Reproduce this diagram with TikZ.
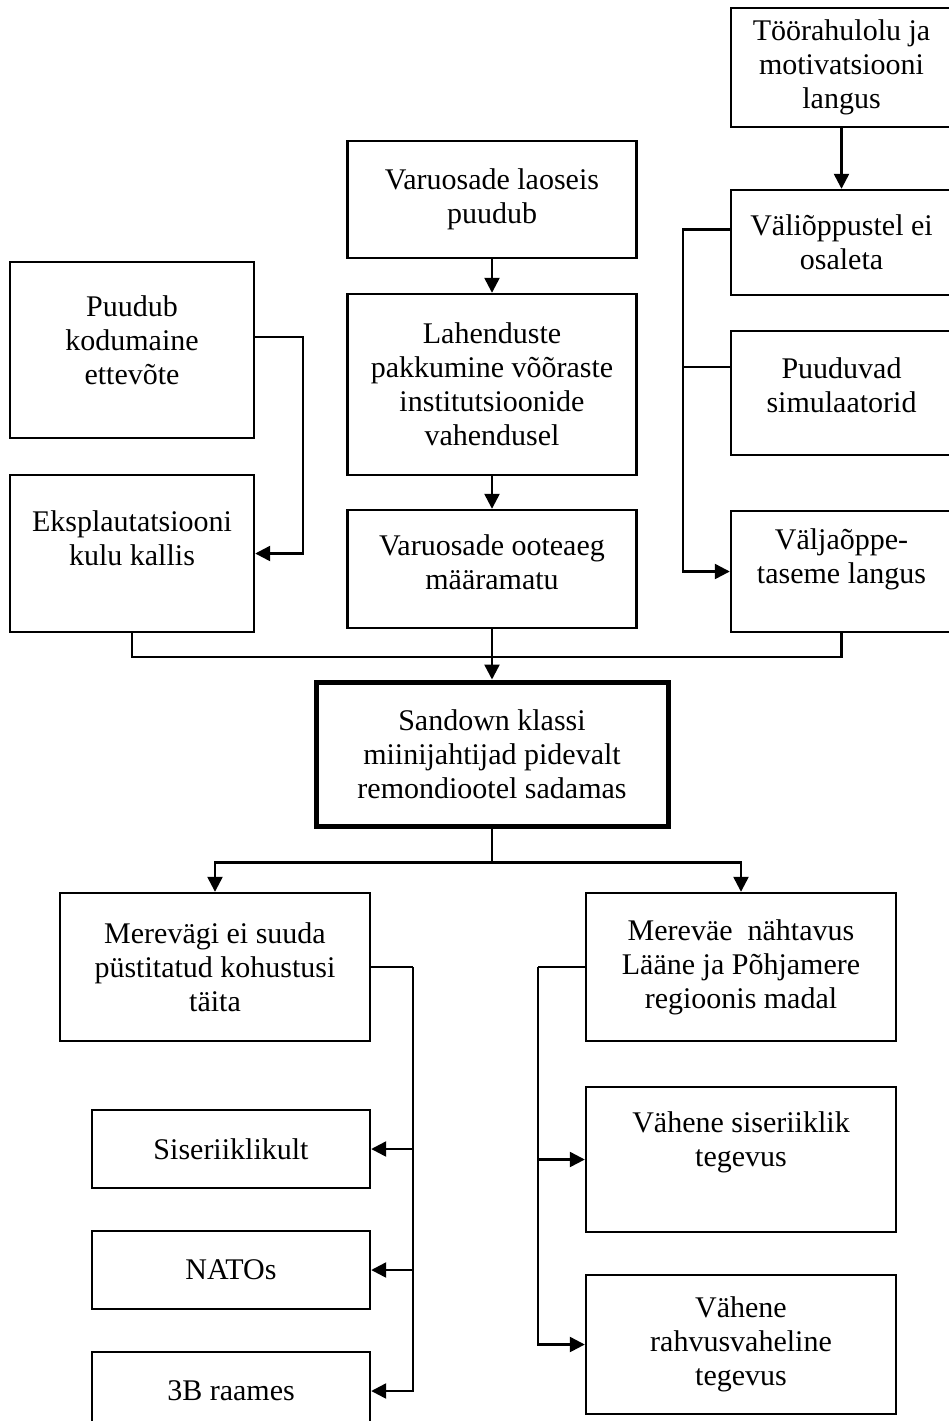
\documentclass[tikz,border=0pt]{standalone}
\usepackage{fontspec}
\setmainfont{Liberation Serif}
\usepackage{tikz}
\usetikzlibrary{arrows.meta, calc}

\begin{document}
\begin{tikzpicture}[
    x=0.5pt, y=-0.5pt,
    cell/.style={rectangle, draw, line width=1.2pt, inner sep=2pt, align=center,
                 font=\fontsize{15}{17}\selectfont},
    leftcell/.style={cell, minimum width=122pt},
    midcell/.style={cell, minimum width=144.5pt},
    rightcell/.style={cell, minimum width=110.5pt},
    lowcell/.style={cell, minimum width=155pt},
    subcell/.style={cell, minimum width=139pt, minimum height=39pt},
    wire/.style={line width=1.2pt},
    conn/.style={wire, -{Triangle[length=7.5pt, width=7.5pt]}}
]
  \useasboundingbox (0,0) rectangle (949,1421);

  % Causes, right column
  \node[rightcell, minimum height=59.5pt] (too) at (841.5,67.5) {Töörahulolu ja\\motivatsiooni\\langus};
  \node[rightcell, minimum height=52.5pt] (vali) at (841.5,242.5) {Väliõppustel ei\\osaleta};
  \node[rightcell, minimum height=62pt, text depth=8pt] (simul) at (841.5,393) {Puuduvad\\simulaatorid};
  \node[rightcell, minimum height=60.5pt, text depth=15pt] (valja) at (841.5,571.5) {Väljaõppe-\\taseme langus};
  % Causes, middle column
  \node[midcell, minimum height=58.5pt] (laos) at (492,199.5) {Varuosade laoseis\\puudub};
  \node[midcell, minimum height=90.5pt] (lahend) at (492,384.5) {Lahenduste\\pakkumine võõraste\\institutsioonide\\vahendusel};
  \node[midcell, minimum height=59pt, text depth=7pt] (ooteaeg) at (492,569) {Varuosade ooteaeg\\määramatu};
  % Causes, left column
  \node[leftcell, minimum height=88pt, text depth=10pt] (puudub) at (132,350) {Puudub\\kodumaine\\ettevõte};
  \node[leftcell, minimum height=78.5pt, text depth=15pt] (ekspl) at (132,553.5) {Eksplautatsiooni\\kulu kallis};
  % Core problem
  \node[cell, line width=2.5pt, minimum width=176pt, minimum height=72pt] (sandown) at (492,754) {Sandown klassi\\miinijahtijad pidevalt\\remondiootel sadamas};
  % Effects
  \node[lowcell, minimum height=74pt] (merevagi) at (215,967) {Merevägi ei suuda\\püstitatud kohustusi\\täita};
  \node[lowcell, minimum height=74pt] (mereva) at (741,967) {Mereväe\ \ nähtavus\\Lääne ja Põhjamere\\regioonis madal};
  \node[subcell] (sise) at (231,1149) {Siseriiklikult};
  \node[subcell] (natos) at (231,1270) {NATOs};
  \node[subcell] (raames) at (231,1391) {3B raames};
  \node[lowcell, minimum height=72.5pt, text depth=20pt] (vsise) at (741,1159.5) {Vähene siseriiklik\\tegevus};
  \node[lowcell, minimum height=69.5pt] (vrahv) at (741,1344.5) {Vähene\\rahvusvaheline\\tegevus};

  \draw[conn] (too.south) -- (vali.north);
  \draw[conn] (laos.south) -- (lahend.north);
  \draw[conn] (lahend.south) -- (ooteaeg.north);
  \draw[conn] ([yshift=6.5pt]puudub.east) -- ++(48,0) |- (ekspl.east);

  \draw[conn] ([yshift=6.5pt]vali.west) -- ++(-47,0) coordinate (rbus) |- (valja.west);
  \coordinate (simin) at ([yshift=13pt]simul.west);
  \draw[wire] (simin) -- (simin -| rbus);

  \coordinate (bus) at (492,657);
  \draw[wire] (ekspl.south) |- (bus) -| (valja.south);
  \draw[conn] (ooteaeg.south) -- (sandown.north);

  \draw[wire] (sandown.south) -- ++(0,34) coordinate (split);
  \draw[conn] (split) -| (merevagi.north);
  \draw[conn] (split) -| (mereva.north);

  \draw[wire] (merevagi.east) -- ++(42,0) coordinate (lbus);
  \foreach \t in {sise,natos,raames}{
    \draw[conn] (lbus) |- (\t.east);
  }
  \draw[wire] (mereva.west) -- ++(-47,0) coordinate (mbus);
  \foreach \t in {vsise,vrahv}{
    \draw[conn] (mbus) |- (\t.west);
  }
\end{tikzpicture}
\end{document}
